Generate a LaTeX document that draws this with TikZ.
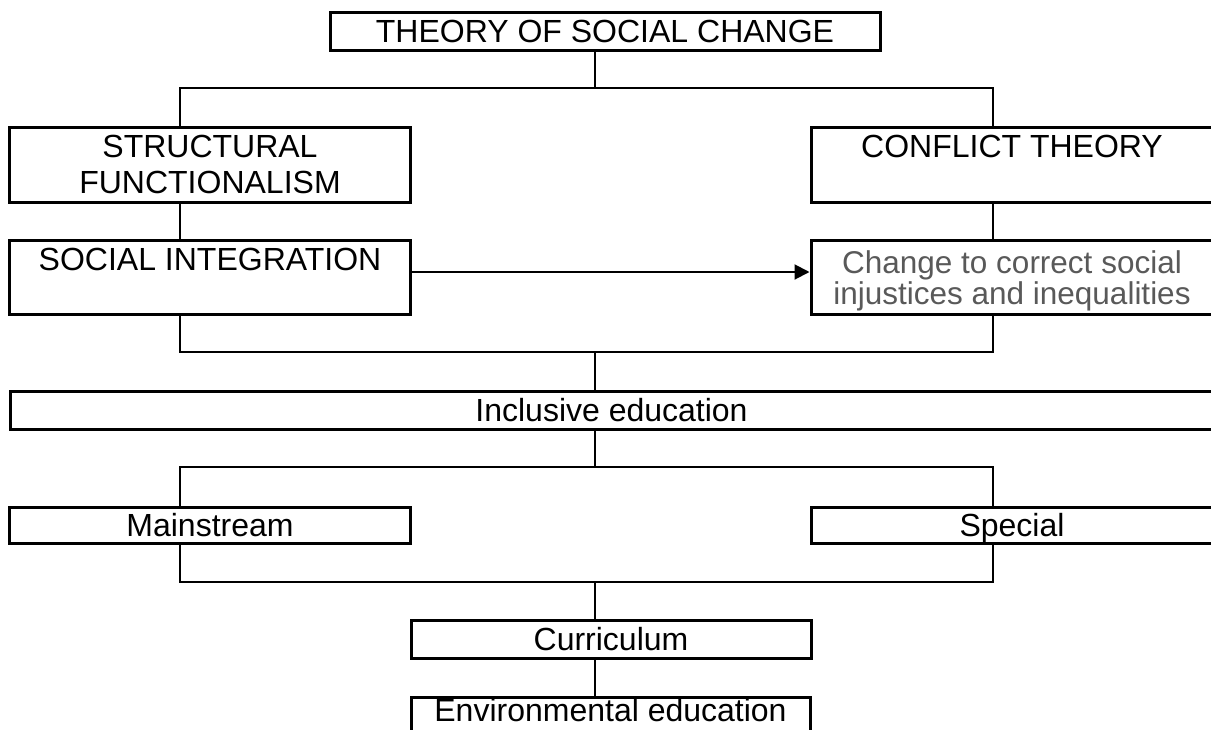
\documentclass[tikz,border=0pt]{standalone}
\usepackage{fontspec}
\setmainfont{Liberation Sans}
\usepackage{tikz}
\usetikzlibrary{arrows.meta, positioning, calc}
\definecolor{softgrey}{RGB}{89,89,89}

\begin{document}
\begin{tikzpicture}[x=1pt, y=-1pt,
  box/.style={draw, line width=3pt, inner sep=0pt, font=\fontsize{32}{36}\selectfont},
  oneline/.style={box, text height=23pt, text depth=0pt},
  twoline/.style={box, align=center},
  link/.style={line width=2.7pt},
  push/.style={-{Triangle[length=15pt, width=15pt]}, line width=2pt}]
  \useasboundingbox (0,0) rectangle (1211,729);
  \clip (0,0) rectangle (1211,729);

  % Theory
  \node[oneline, minimum width=550, minimum height=38] (top) at (605,31) {THEORY OF SOCIAL CHANGE};

  % Two theories
  \node[twoline, minimum width=401, minimum height=75] (sf) at (210,164.5) {STRUCTURAL\\FUNCTIONALISM};
  \node[twoline, minimum width=402, minimum height=75] (ct) at (1012,164.5) {CONFLICT THEORY\\\mbox{}};
  \node[twoline, minimum width=401, minimum height=74] (si) at (210,277) {SOCIAL INTEGRATION\\\mbox{}};
  \node[twoline, minimum width=402, minimum height=74, text=softgrey,
        font=\fontsize{31.5}{31}\selectfont] (ch) at (1012,277)
        {\rule{0pt}{31pt}Change to correct social\\injustices and inequalities};

  % Education
  \node[oneline, minimum width=1203, minimum height=38] (incl) at (611.5,410) {Inclusive education};
  \node[oneline, minimum width=401, minimum height=36] (ms) at (210,525) {Mainstream};
  \node[oneline, minimum width=402, minimum height=36] (sp) at (1012,525) {Special};
  \node[oneline, minimum width=400, minimum height=38] (cur) at (611,639) {Curriculum};
  \node[box, text height=23pt, text depth=13pt, minimum width=399, minimum height=38] (env) at (610.5,716) {Environmental education};

  % Junctions
  \coordinate (lx) at (180,0);
  \coordinate (rx) at (993,0);
  \coordinate (mx) at (595,0);
  \coordinate (b1) at (595,88);
  \coordinate (b2) at (595,352);
  \coordinate (b3) at (595,467);
  \coordinate (b4) at (595,582);

  % Lines
  \draw[link] (top.south -| mx) -- (b1);
  \draw[link] (sf.north -| lx) |- (b1) -| (ct.north -| rx);
  \draw[link] (sf.south -| lx) -- (si.north -| lx);
  \draw[link] (ct.south -| rx) -- (ch.north -| rx);
  \draw[link] (si.south -| lx) |- (b2) -| (ch.south -| rx);
  \draw[link] (b2) -- (incl.north -| mx);
  \draw[link] (incl.south -| mx) -- (b3);
  \draw[link] (ms.north -| lx) |- (b3) -| (sp.north -| rx);
  \draw[link] (ms.south -| lx) |- (b4) -| (sp.south -| rx);
  \draw[link] (b4) -- (cur.north -| mx);
  \draw[link] (cur.south -| mx) -- (env.north -| mx);

  % Arrow
  \draw[push] ([yshift=5pt]si.east) -- ([yshift=5pt]ch.west);
\end{tikzpicture}
\end{document}
